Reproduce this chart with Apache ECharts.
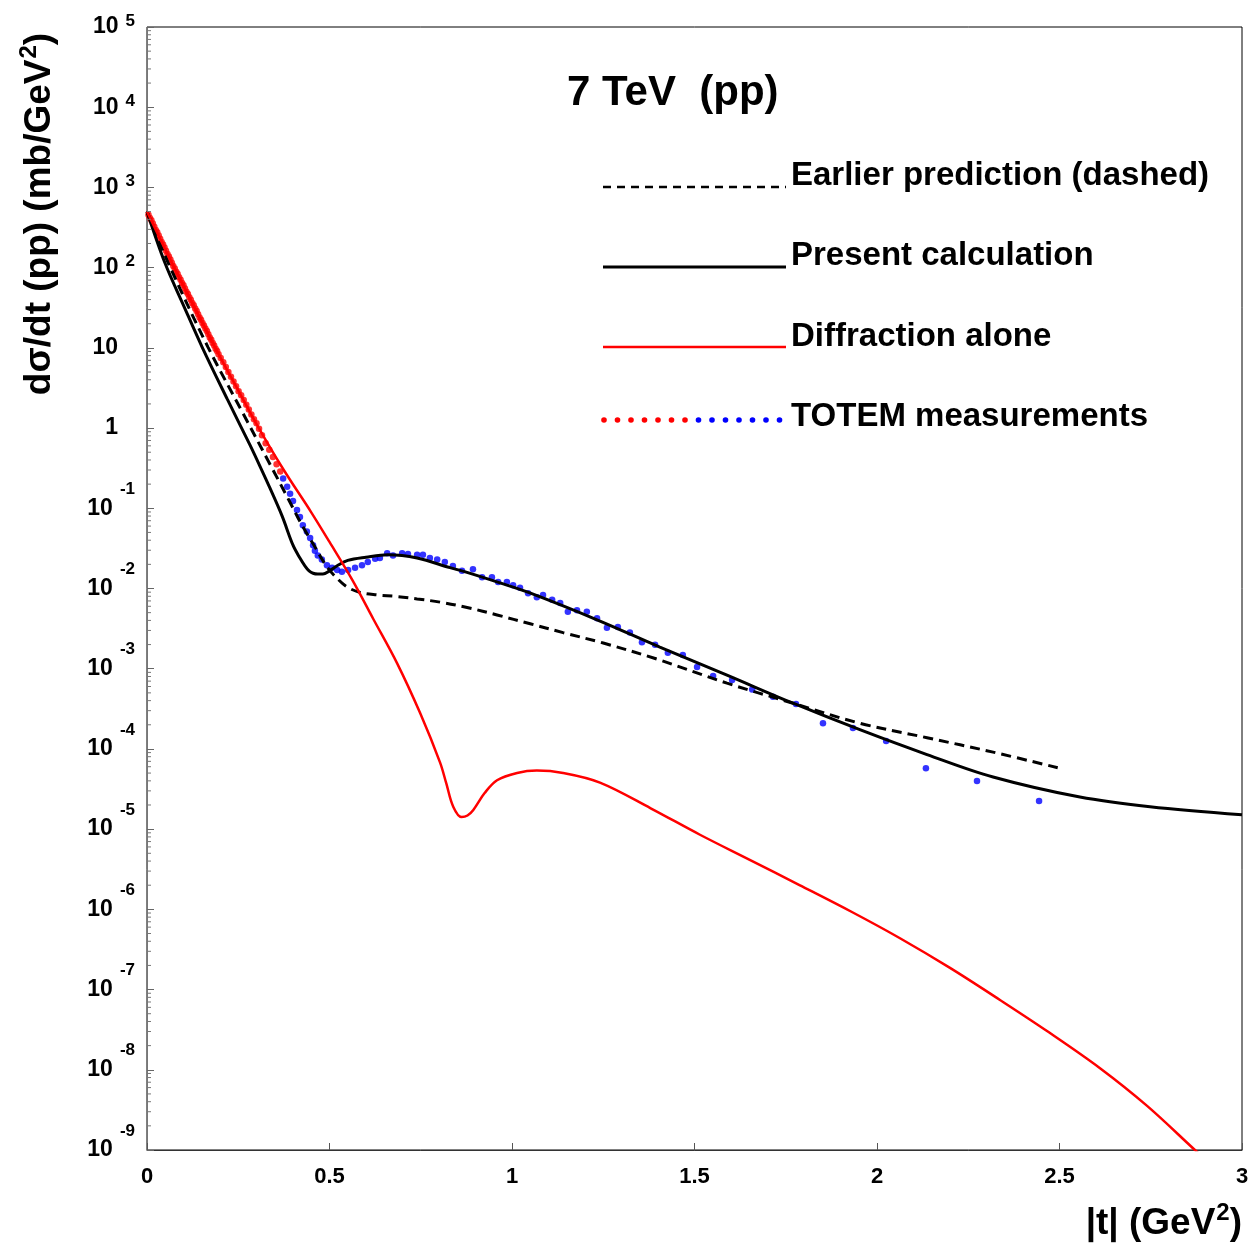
<!DOCTYPE html>
<html><head><meta charset="utf-8">
<script src="https://cdn.jsdelivr.net/npm/echarts@6/dist/echarts.min.js"></script>
<style>html,body{margin:0;padding:0;background:#fff}#c{width:1257px;height:1251px}</style>
</head><body><div id="c"></div>
<script>
const FONT = '"Liberation Sans", Arial, Helvetica, sans-serif';

// ---- tick labels ----
const xTickLabels = ['0', '0.5', '1', '1.5', '2', '2.5', '3'];

// ---- Earlier prediction (dashed), |t| in GeV^2, log10(dσ/dt in mb/GeV^2) ----
const earlierT = [0, 0.058, 0.167, 0.26, 0.345, 0.39, 0.427, 0.46, 0.493, 0.52, 0.548, 0.584, 0.63, 0.685, 0.74, 0.803, 0.88, 0.959, 1.05, 1.14, 1.25, 1.39, 1.589, 1.77, 1.953, 2.137, 2.318, 2.5];
const earlierLog10 = [2.70, 2.06, 1.01, 0.21, -0.52, -0.91, -1.23, -1.48, -1.73, -1.87, -1.98, -2.05, -2.08, -2.10, -2.13, -2.17, -2.24, -2.33, -2.44, -2.55, -2.68, -2.87, -3.18, -3.43, -3.68, -3.86, -4.04, -4.24];

// ---- Present calculation (solid black) ----
const presentT = [0, 0.049, 0.1, 0.151, 0.22, 0.282, 0.315, 0.337, 0.37, 0.40, 0.419, 0.433, 0.444, 0.455, 0.468, 0.482, 0.50, 0.52, 0.55, 0.60, 0.66, 0.74, 0.83, 0.87, 0.967, 1.049, 1.233, 1.405, 1.589, 1.77, 1.953, 2.137, 2.318, 2.556, 2.748, 3.0];
const presentLog10 = [2.70, 2.06, 1.53, 1.01, 0.36, -0.21, -0.53, -0.75, -1.095, -1.46, -1.62, -1.72, -1.78, -1.81, -1.82, -1.82, -1.78, -1.72, -1.65, -1.61, -1.58, -1.62, -1.74, -1.79, -1.93, -2.055, -2.39, -2.73, -3.08, -3.43, -3.76, -4.07, -4.35, -4.60, -4.72, -4.82];

// ---- Diffraction alone (red) ----
const diffT = [0, 0.068, 0.186, 0.25, 0.30, 0.373, 0.45, 0.50, 0.562, 0.62, 0.685, 0.748, 0.803, 0.82, 0.839, 0.862, 0.878, 0.894, 0.925, 0.959, 1.014, 1.068, 1.14, 1.241, 1.38, 1.515, 1.65, 1.789, 1.93, 2.063, 2.2, 2.337, 2.47, 2.611, 2.74, 2.871, 2.9];
const diffLog10 = [2.70, 2.06, 1.01, 0.47, 0.05, -0.51, -1.05, -1.42, -1.89, -2.38, -2.93, -3.55, -4.17, -4.43, -4.72, -4.85, -4.83, -4.76, -4.55, -4.39, -4.30, -4.27, -4.30, -4.42, -4.74, -5.07, -5.38, -5.70, -6.03, -6.36, -6.73, -7.13, -7.53, -7.98, -8.45, -9.0, -9.12];

// ---- TOTEM measurements, low |t| (red points) ----
const totemLowT = [0.004, 0.008, 0.012, 0.016, 0.020, 0.024, 0.028, 0.032, 0.036, 0.040, 0.044, 0.048, 0.052, 0.056, 0.060, 0.064, 0.068, 0.072, 0.076, 0.080, 0.084, 0.088, 0.092, 0.096, 0.100, 0.104, 0.108, 0.112, 0.116, 0.120, 0.124, 0.128, 0.132, 0.136, 0.140, 0.144, 0.148, 0.152, 0.156, 0.160, 0.164, 0.168, 0.172, 0.176, 0.180, 0.184, 0.188, 0.192, 0.196, 0.202, 0.209, 0.216, 0.223, 0.230, 0.237, 0.244, 0.251, 0.258, 0.265, 0.272, 0.279, 0.286, 0.293, 0.300, 0.307, 0.315, 0.325, 0.335, 0.345, 0.355, 0.365];
const totemLowLog10 = [2.66, 2.62, 2.59, 2.55, 2.51, 2.47, 2.44, 2.40, 2.36, 2.32, 2.29, 2.25, 2.21, 2.17, 2.14, 2.10, 2.06, 2.02, 1.99, 1.95, 1.92, 1.88, 1.85, 1.81, 1.78, 1.74, 1.70, 1.67, 1.63, 1.60, 1.56, 1.53, 1.49, 1.46, 1.42, 1.38, 1.35, 1.31, 1.28, 1.24, 1.21, 1.17, 1.13, 1.10, 1.06, 1.03, 0.99, 0.96, 0.92, 0.875, 0.82, 0.76, 0.70, 0.64, 0.58, 0.52, 0.46, 0.41, 0.35, 0.29, 0.23, 0.17, 0.11, 0.06, -0.01, -0.09, -0.19, -0.27, -0.36, -0.45, -0.54];

// ---- TOTEM measurements, high |t| (blue points) ----
const totemHighT = [0.373, 0.384, 0.392, 0.400, 0.411, 0.419, 0.427, 0.438, 0.447, 0.455, 0.460, 0.468, 0.479, 0.493, 0.507, 0.521, 0.534, 0.551, 0.570, 0.589, 0.605, 0.625, 0.638, 0.658, 0.674, 0.699, 0.715, 0.740, 0.756, 0.775, 0.795, 0.816, 0.838, 0.863, 0.893, 0.918, 0.945, 0.962, 0.986, 1.003, 1.022, 1.044, 1.068, 1.085, 1.110, 1.132, 1.153, 1.178, 1.205, 1.233, 1.260, 1.290, 1.323, 1.356, 1.392, 1.427, 1.468, 1.507, 1.551, 1.603, 1.658, 1.715, 1.778, 1.852, 1.934, 2.025, 2.134, 2.274, 2.444];
const totemHighLog10 = [-0.63, -0.73, -0.82, -0.91, -1.02, -1.11, -1.21, -1.29, -1.37, -1.46, -1.53, -1.59, -1.64, -1.71, -1.74, -1.77, -1.79, -1.77, -1.74, -1.71, -1.67, -1.63, -1.62, -1.56, -1.59, -1.56, -1.57, -1.58, -1.58, -1.62, -1.64, -1.67, -1.72, -1.78, -1.76, -1.86, -1.86, -1.92, -1.92, -1.96, -1.99, -2.06, -2.11, -2.08, -2.14, -2.18, -2.29, -2.27, -2.29, -2.37, -2.49, -2.48, -2.55, -2.67, -2.70, -2.80, -2.83, -2.98, -3.09, -3.14, -3.26, -3.35, -3.44, -3.68, -3.74, -3.90, -4.24, -4.40, -4.65];

const legendLabels = ['Earlier prediction (dashed)', 'Present calculation', 'Diffraction alone', 'TOTEM measurements'];

function pairs(ts, logs) { return ts.map((t, i) => [t, Math.pow(10, logs[i])]); }

// minor log ticks (2..9 x 10^k)
const minorTicks = [];
for (let e = -9; e < 5; e++) for (let m = 2; m <= 9; m++) minorTicks.push([0, m * Math.pow(10, e)]);

const chart = echarts.init(document.getElementById('c'));

const legendY = [176, 256, 337, 417];
const graphic = [
  { type: 'text', x: 567, y: 93, style: { text: '7 TeV  (pp)', font: 'bold 42px ' + FONT, fill: '#000', align: 'left', verticalAlign: 'middle' } },
  { type: 'text', x: 1242, y: 1224, style: { text: '{m||t| (GeV}{s|2}{m|)}', align: 'right', verticalAlign: 'middle',
      rich: { m: { font: 'bold 37px ' + FONT, fill: '#000' }, s: { font: 'bold 24px ' + FONT, fill: '#000', padding: [0, 0, 22, 1] } } } },
  { type: 'text', x: 40, y: 214, rotation: Math.PI / 2, style: { text: '{m|dσ/dt (pp) (mb/GeV}{s|2}{m|)}', align: 'center', verticalAlign: 'middle',
      rich: { m: { font: 'bold 37px ' + FONT, fill: '#000' }, s: { font: 'bold 24px ' + FONT, fill: '#000', padding: [0, 0, 22, 1] } } } },
  { type: 'line', shape: { x1: 603, y1: 187, x2: 786, y2: 187 }, style: { stroke: '#000', lineWidth: 2.5, lineDash: [8, 6] } },
  { type: 'line', shape: { x1: 603, y1: 267, x2: 786, y2: 267 }, style: { stroke: '#000', lineWidth: 3 } },
  { type: 'line', shape: { x1: 603, y1: 347, x2: 786, y2: 347 }, style: { stroke: '#ff0000', lineWidth: 2.5 } }
];
for (let i = 0; i < 14; i++) {
  graphic.push({ type: 'circle', shape: { cx: 604 + i * 13.5, cy: 420, r: 2.8 }, style: { fill: i < 7 ? '#ff0000' : '#0000ff' } });
}
legendLabels.forEach((s, i) => {
  graphic.push({ type: 'text', x: 791, y: legendY[i], style: { text: s, font: 'bold 33px ' + FONT, fill: '#000', align: 'left', verticalAlign: 'middle' } });
});

const option = {
  animation: false,
  backgroundColor: '#fff',
  grid: { left: 147, right: 15, top: 27, bottom: 101, show: true, borderColor: '#000', borderWidth: 1, containLabel: false },
  xAxis: {
    type: 'value', min: 0, max: 3, interval: 0.5,
    axisLine: { lineStyle: { color: '#333', width: 1 } },
    axisTick: { inside: true, length: 7, lineStyle: { color: '#555' } },
    axisLabel: { margin: 16, fontSize: 22, fontWeight: 'bold', fontFamily: FONT, color: '#000',
      formatter: v => xTickLabels[Math.round(v / 0.5)] },
    splitLine: { show: false }
  },
  yAxis: {
    type: 'log', logBase: 10, min: 1e-9, max: 1e5, interval: 1, splitNumber: 14,
    axisLine: { lineStyle: { color: '#777', width: 1 } },
    axisTick: { inside: true, length: 7, lineStyle: { color: '#666' } },
    splitLine: { show: false },
    axisLabel: {
      margin: 12, color: '#000', fontFamily: FONT,
      formatter: v => {
        const e = Math.round(Math.log10(v));
        if (e === 0) return '{p|1}';
        if (e === 1) return '{p|10}';
        return '{b|10}{' + (e < 0 ? 'en' : 'ep') + '|' + e + '}';
      },
      rich: {
        b: { fontSize: 23, fontWeight: 'bold', fontFamily: FONT, color: '#000' },
        p: { fontSize: 23, fontWeight: 'bold', fontFamily: FONT, color: '#000', padding: [0, 17, 0, 0] },
        ep: { fontSize: 17, fontWeight: 'bold', fontFamily: FONT, color: '#000', padding: [0, 0, 12, 7] },
        en: { fontSize: 17, fontWeight: 'bold', fontFamily: FONT, color: '#000', padding: [0, 0, 38, 7] }
      }
    }
  },
  series: [
    { name: 'TOTEM low', type: 'scatter', data: pairs(totemLowT, totemLowLog10), symbol: 'circle', symbolSize: 6.5, itemStyle: { color: '#ff0000' }, z: 2 },
    { name: 'TOTEM high', type: 'scatter', data: pairs(totemHighT, totemHighLog10), symbol: 'circle', symbolSize: 6.5, itemStyle: { color: '#0000ff' }, z: 2 },
    { name: legendLabels[0], type: 'line', data: pairs(earlierT, earlierLog10), showSymbol: false, symbol: 'none', smooth: 0.35,
      lineStyle: { color: '#000', width: 3, type: [10, 6] }, z: 3 },
    { name: legendLabels[1], type: 'line', data: pairs(presentT, presentLog10), showSymbol: false, symbol: 'none', smooth: 0.35,
      lineStyle: { color: '#000', width: 3 }, z: 4 },
    { name: legendLabels[2], type: 'line', data: pairs(diffT, diffLog10), showSymbol: false, symbol: 'none', smooth: 0.35,
      lineStyle: { color: '#ff0000', width: 2.5 }, z: 4 },
    { name: 'minor ticks', type: 'custom', data: minorTicks, silent: true, z: 5,
      renderItem: (params, api) => {
        const p = api.coord([api.value(0), api.value(1)]);
        return { type: 'line', shape: { x1: p[0], y1: p[1], x2: p[0] + 4, y2: p[1] }, style: { stroke: '#777', lineWidth: 1 } };
      } }
  ],
  graphic: graphic
};
chart.setOption(option);
</script>
</body></html>
